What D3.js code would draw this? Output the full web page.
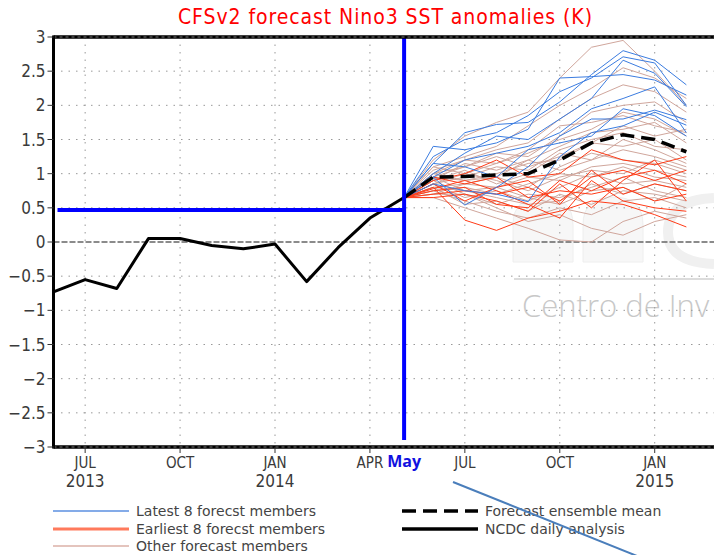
<!DOCTYPE html>
<head>
    <style>
        body { margin: 0; background: #fff; }
        svg { display: block; background: #fff; }
        text { font-family: "Liberation Sans Narrow", "DejaVu Sans Condensed", sans-serif; fill: #3a3a3a; }
    </style>
</head>
<body>
    <script src="https://cdn.jsdelivr.net/npm/d3@7"></script>
    <script>
        const w = 714, h = 555;

        // month index: 0 = JUN 2013
        const tickMonths = [1, 4, 7, 10, 13, 16, 19];
        const tickLabels = ["JUL", "OCT", "JAN", "APR", "JUL", "OCT", "JAN"];
        const yearLabels = ["2013", "", "2014", "", "", "", "2015"];
        const yTicks = [3, 2.5, 2, 1.5, 1, 0.5, 0, -0.5, -1, -1.5, -2, -2.5, -3];

        // NCDC observed (Jun 2013 .. mid May 2014)
        const obsMonths = [0, 1, 2, 3, 4, 5, 6, 7, 8, 9, 10, 11.08];
        const obsValues = [-0.73, -0.55, -0.68, 0.05, 0.05, -0.05, -0.1, -0.03, -0.58, -0.08, 0.35, 0.65];

        // forecast: start point then JUN 2014 .. FEB 2015
        const fcMonths = [11.08, 12, 13, 14, 15, 16, 17, 18, 19, 20];
        const fcStart = 0.65;
        const ensembleMean = [0.65, 0.95, 0.96, 0.98, 1.0, 1.2, 1.45, 1.57, 1.5, 1.32];

        const latestMembers = [
            [1.15, 1.60, 1.72, 1.75, 2.05, 2.45, 2.80, 2.66, 2.30],
            [1.25, 1.50, 1.60, 1.85, 2.20, 2.40, 2.71, 2.62, 2.00],
            [1.00, 1.30, 1.55, 1.50, 1.80, 2.10, 2.66, 2.47, 1.98],
            [1.40, 1.35, 1.45, 1.65, 2.40, 2.42, 2.45, 2.37, 2.15],
            [0.95, 1.20, 1.30, 1.40, 1.60, 1.95, 2.10, 2.27, 1.60],
            [0.95, 0.54, 0.80, 1.10, 1.55, 1.80, 1.80, 1.93, 1.79],
            [0.85, 0.75, 0.70, 0.59, 1.25, 1.60, 1.70, 1.90, 1.71],
            [1.15, 1.10, 0.95, 1.35, 1.45, 1.55, 1.95, 1.85, 1.55]
        ];

        const earliestMembers = [
            [0.90, 1.00, 1.20, 0.95, 1.00, 1.35, 1.20, 1.13, 1.25],
            [0.75, 0.80, 0.55, 0.50, 0.90, 0.75, 0.95, 1.05, 0.85],
            [0.80, 0.32, 0.17, 0.35, 0.45, 0.60, 0.55, 0.40, 0.22],
            [0.70, 0.75, 0.70, 0.80, 0.60, 0.95, 1.05, 0.90, 1.05],
            [0.95, 0.85, 0.95, 0.65, 0.75, 0.70, 0.80, 0.60, 0.70],
            [0.85, 0.60, 0.80, 0.90, 0.55, 1.05, 0.70, 0.85, 0.75],
            [0.65, 0.70, 0.60, 0.45, 0.85, 0.50, 0.90, 1.20, 0.60],
            [0.78, 0.90, 0.75, 0.55, 0.35, 0.90, 0.60, 0.50, 0.45]
        ];

        const otherMembers = [
            [1.20, 1.55, 1.75, 1.90, 2.40, 2.85, 2.95, 2.50, 2.00],
            [1.10, 1.25, 1.40, 1.70, 2.00, 2.25, 2.55, 2.40, 2.10],
            [1.00, 1.20, 1.35, 1.45, 1.80, 2.10, 2.30, 2.20, 1.90],
            [0.95, 1.10, 1.30, 1.25, 1.55, 1.90, 2.00, 2.05, 1.75],
            [1.05, 1.20, 1.15, 1.35, 1.70, 1.75, 1.85, 1.70, 1.60],
            [0.90, 1.15, 1.05, 1.20, 1.40, 1.60, 1.65, 1.75, 1.45],
            [0.85, 0.95, 1.10, 1.05, 1.35, 1.50, 1.60, 1.40, 1.35],
            [1.00, 0.90, 1.00, 1.15, 1.20, 1.45, 1.40, 1.50, 1.20],
            [0.90, 1.05, 0.85, 1.00, 1.30, 1.20, 1.35, 1.25, 1.10],
            [0.80, 0.85, 0.95, 0.80, 1.10, 1.30, 1.20, 1.15, 1.00],
            [0.95, 0.75, 0.80, 0.95, 0.90, 1.10, 1.15, 1.05, 0.95],
            [0.75, 0.80, 0.70, 0.85, 1.00, 0.95, 1.10, 0.95, 0.90],
            [0.85, 0.65, 0.75, 0.60, 0.80, 1.00, 0.85, 0.90, 0.80],
            [0.70, 0.70, 0.55, 0.70, 0.65, 0.80, 0.95, 0.75, 0.65],
            [0.80, 0.55, 0.60, 0.45, 0.70, 0.55, 0.75, 0.70, 0.60],
            [0.75, 0.60, 0.45, 0.35, 0.50, 0.40, 0.60, 0.65, 0.50],
            [0.65, 0.50, 0.35, 0.20, 0.03, 0.00, 0.30, 0.45, 0.35],
            [0.90, 0.70, 0.50, 0.30, 0.40, 0.20, 0.10, 0.30, 0.40],
            [1.00, 1.10, 1.25, 1.10, 1.25, 1.45, 1.70, 1.55, 1.65],
            [1.10, 1.00, 1.15, 1.30, 1.50, 1.65, 1.90, 1.80, 1.55],
            [0.95, 0.90, 0.95, 1.20, 1.05, 1.20, 1.50, 1.35, 1.15],
            [0.85, 1.00, 0.90, 0.75, 0.95, 1.05, 1.00, 1.20, 1.05],
            [0.80, 0.75, 0.65, 0.55, 0.60, 0.85, 0.70, 0.85, 0.75],
            [0.70, 0.85, 0.80, 0.65, 0.55, 0.75, 0.80, 0.60, 0.85]
        ];

        const mayMonth = 11.08, mayLevel = 0.47;

        const legendItems = [
            { label: "Latest 8 forecst members", color: "#5b8fe0", width: 1.5, dash: null, col: 0, row: 0 },
            { label: "Earliest 8 forecst members", color: "#ff7a5c", width: 3, dash: null, col: 0, row: 1 },
            { label: "Other forecast members", color: "#e4c4bd", width: 2, dash: null, col: 0, row: 2 },
            { label: "Forecast ensemble mean", color: "#000", width: 3.5, dash: "14,7", col: 1, row: 0 },
            { label: "NCDC daily analysis", color: "#000", width: 3.5, dash: null, col: 1, row: 1 }
        ];

        const pLeft = 53.5, pRight = 718, pTop = 37, pBottom = 447;
        const x = d3.scaleLinear().domain([0, 21]).range([pLeft, pRight]);
        const y = d3.scaleLinear().domain([-3, 3]).range([pBottom, pTop]);

        const svg = d3.select('body')
                      .append('svg')
                      .attr('width', w)
                      .attr('height', h);

        // title
        svg.append('text')
           .attr('x', 385).attr('y', 24)
           .attr('text-anchor', 'middle')
           .attr('textLength', 414)
           .style('font-size', '21px')
           .style('fill', '#f00')
           .text('CFSv2 forecast Nino3 SST anomalies (K)');

        // watermark
        const wm = svg.append('g');
        wm.append('path')
          .attr('d', 'M513,262 L513,225 Q513,197 543,197 Q573,197 573,225 L573,262 Z')
          .attr('fill', '#f7f7f7').attr('stroke', '#eeeeee');
        wm.append('path')
          .attr('d', 'M583,262 L583,225 Q583,197 613,197 Q643,197 643,225 L643,262 Z')
          .attr('fill', '#f7f7f7').attr('stroke', '#eeeeee');
        wm.append('path')
          .attr('d', 'M714,198 Q668,200 668,232 Q668,262 714,264')
          .attr('fill', 'none').attr('stroke', '#f0f0f0').attr('stroke-width', 10);
        wm.append('line')
          .attr('x1', 514).attr('x2', 714).attr('y1', 279).attr('y2', 279)
          .attr('stroke', '#dcdcdc').attr('stroke-width', 2);
        wm.append('text')
          .attr('x', 522).attr('y', 317)
          .style('font-family', '"Open Sans", sans-serif')
          .style('font-weight', 300)
          .style('font-size', '31px')
          .style('fill', '#c8c8c8')
          .text('Centro de Inv');

        // grid
        const grid = svg.append('g')
                        .attr('stroke', '#999')
                        .attr('stroke-width', 1)
                        .attr('stroke-dasharray', '1.5,6');
        grid.selectAll('line.h')
            .data(yTicks.filter(d => d !== 0 && Math.abs(d) < 3))
            .enter().append('line')
            .attr('x1', pLeft).attr('x2', pRight)
            .attr('y1', d => y(d)).attr('y2', d => y(d));
        grid.selectAll('line.v')
            .data(tickMonths)
            .enter().append('line')
            .attr('x1', d => x(d)).attr('x2', d => x(d))
            .attr('y1', pTop).attr('y2', pBottom);

        // zero line
        svg.append('line')
           .attr('x1', pLeft).attr('x2', pRight)
           .attr('y1', y(0)).attr('y2', y(0))
           .attr('stroke', '#666').attr('stroke-width', 1.5)
           .attr('stroke-dasharray', '6,2');

        const line = d3.line()
                       .x(d => x(d[0]))
                       .y(d => y(d[1]));

        const withStart = vals => [fcStart].concat(vals).map((v, i) => [fcMonths[i], v]);

        function drawMembers(data, color) {
            svg.append('g').selectAll('path')
               .data(data)
               .enter().append('path')
               .attr('d', d => line(withStart(d)))
               .attr('fill', 'none')
               .attr('stroke', color)
               .attr('stroke-width', 1);
        }
        drawMembers(otherMembers, '#d0a69c');
        drawMembers(earliestMembers, '#ff3b17');
        drawMembers(latestMembers, '#3b7ce0');

        // ensemble mean
        svg.append('path')
           .attr('d', line(ensembleMean.map((v, i) => [fcMonths[i], v])))
           .attr('fill', 'none')
           .attr('stroke', '#000')
           .attr('stroke-width', 3.5)
           .attr('stroke-dasharray', '14,7');

        // observed
        svg.append('path')
           .attr('d', line(obsValues.map((v, i) => [obsMonths[i], v])))
           .attr('fill', 'none')
           .attr('stroke', '#000')
           .attr('stroke-width', 3)
           .attr('stroke-linejoin', 'round');

        // May markers
        svg.append('line')
           .attr('x1', pLeft + 4).attr('x2', x(mayMonth))
           .attr('y1', y(mayLevel)).attr('y2', y(mayLevel))
           .attr('stroke', '#00f').attr('stroke-width', 4);
        svg.append('line')
           .attr('x1', x(mayMonth)).attr('x2', x(mayMonth))
           .attr('y1', pTop).attr('y2', pBottom - 7)
           .attr('stroke', '#00f').attr('stroke-width', 4);

        // frame
        const frame = svg.append('g');
        [pTop, pBottom].forEach(yy => {
            frame.append('line')
                 .attr('x1', pLeft).attr('x2', pRight)
                 .attr('y1', yy).attr('y2', yy)
                 .attr('stroke', '#000').attr('stroke-width', 3.5);
            frame.append('line')
                 .attr('x1', pLeft).attr('x2', pRight)
                 .attr('y1', yy).attr('y2', yy)
                 .attr('stroke', '#777').attr('stroke-width', 1)
                 .attr('stroke-dasharray', '3,3');
        });
        frame.append('line')
             .attr('x1', pLeft).attr('x2', pLeft)
             .attr('y1', pTop - 1.5).attr('y2', pBottom + 1.5)
             .attr('stroke', '#000').attr('stroke-width', 3);

        // y axis ticks and labels
        svg.append('g').selectAll('line')
           .data(yTicks)
           .enter().append('line')
           .attr('x1', pLeft - 6).attr('x2', pLeft)
           .attr('y1', d => y(d)).attr('y2', d => y(d))
           .attr('stroke', '#333').attr('stroke-width', 1);
        svg.append('g').selectAll('text')
           .data(yTicks)
           .enter().append('text')
           .attr('x', pLeft - 8)
           .attr('y', d => y(d))
           .attr('dy', '0.36em')
           .attr('text-anchor', 'end')
           .style('font-size', '17px')
           .text(d => d < 0 ? '\u2212' + Math.abs(d) : d);

        // x axis ticks and labels
        svg.append('g').selectAll('line')
           .data(tickMonths)
           .enter().append('line')
           .attr('x1', d => x(d)).attr('x2', d => x(d))
           .attr('y1', pBottom).attr('y2', pBottom + 6)
           .attr('stroke', '#333').attr('stroke-width', 1);
        svg.append('g').selectAll('text')
           .data(tickMonths)
           .enter().append('text')
           .attr('x', d => x(d)).attr('y', 468)
           .attr('text-anchor', 'middle')
           .style('font-size', '15px')
           .text((d, i) => tickLabels[i]);
        svg.append('g').selectAll('text')
           .data(tickMonths.filter((d, i) => yearLabels[i]))
           .enter().append('text')
           .attr('x', d => x(d)).attr('y', 487)
           .attr('text-anchor', 'middle')
           .style('font-size', '17px')
           .text(d => yearLabels[tickMonths.indexOf(d)]);

        svg.append('text')
           .attr('x', x(mayMonth)).attr('y', 467)
           .attr('text-anchor', 'middle')
           .style('font-family', '"Open Sans", "Liberation Sans", sans-serif')
           .style('font-weight', 'bold')
           .style('font-size', '16px')
           .style('fill', '#1010e0')
           .text('May');

        // legend
        const lg = svg.append('g');
        const colX = [53, 402], rowY = [511, 529, 546];
        legendItems.forEach(it => {
            const lx = colX[it.col], ly = rowY[it.row];
            lg.append('line')
              .attr('x1', lx).attr('x2', lx + 76)
              .attr('y1', ly).attr('y2', ly)
              .attr('stroke', it.color)
              .attr('stroke-width', it.width)
              .attr('stroke-dasharray', it.dash);
            lg.append('text')
              .attr('x', lx + 83).attr('y', ly)
              .attr('dy', '0.36em')
              .style('font-family', '"DejaVu Sans", sans-serif')
              .style('font-size', '14px')
              .style('fill', '#444')
              .text(it.label);
        });

        // annotation arrow line
        svg.append('line')
           .attr('x1', 453).attr('y1', 482)
           .attr('x2', 652).attr('y2', 562)
           .attr('stroke', '#4a7ebb').attr('stroke-width', 2);
    </script>
</body>
